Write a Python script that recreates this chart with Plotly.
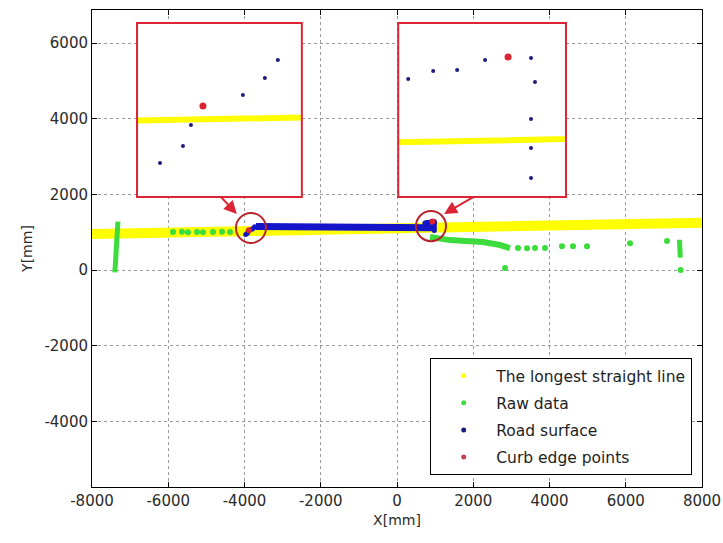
import plotly.graph_objects as go

# ---- data (mm) ----
# longest straight line found in the scan (end points)
line_x = [-8000, 8000]
line_y = [950, 1250]

# raw scan data: left curb wall, scattered points, right-side profile
raw_left_wall_x = [-7320, -7340, -7360, -7380, -7400]
raw_left_wall_y = [1280, 900, 500, 150, -60]
raw_left_pts_x = [-5875, -5640, -5482, -5246, -5089, -4826, -4590, -4380]
raw_left_pts_y = [1004, 1010, 1000, 1006, 998, 1004, 1010, 1004]
raw_right_curve_x = [866, 1100, 1390, 1800, 2256, 2702, 2964]
raw_right_curve_y = [870, 820, 790, 770, 740, 660, 580]
raw_right_pts_x = [3174, 3410, 3620, 3882, 4328, 4616, 4984, 6111, 7082, 2833, 7440]
raw_right_pts_y = [580, 575, 585, 580, 630, 625, 630, 710, 770, 50, 0]
raw_right_wall_x = [7410, 7420, 7430]
raw_right_wall_y = [800, 560, 330]

# road surface band
road_x = [-3700, -3000, -2000, -1000, 0, 500, 940]
road_y = [1150, 1140, 1120, 1110, 1110, 1110, 1120]

# detail around the left curb
left_road_x = [-3969, -3923, -3907, -3803, -3759, -3733]
left_road_y = [940, 974, 1016, 1076, 1110, 1146]
left_curb_x = [-3883]
left_curb_y = [1054]

# detail around the right curb
right_road_x = [732, 782, 830, 886, 978, 986, 978, 978, 978]
right_road_y = [1240, 1256, 1258, 1278, 1282, 1234, 1160, 1102, 1042]
right_curb_x = [932]
right_curb_y = [1284]

# axis ticks
x_ticks = [-8000, -6000, -4000, -2000, 0, 2000, 4000, 6000, 8000]
x_tick_text = ["-8000", "-6000", "-4000", "-2000", "0", "2000", "4000", "6000", "8000"]
y_ticks = [-6000, -4000, -2000, 0, 2000, 4000, 6000]
y_tick_text = ["-6000", "-4000", "-2000", "0", "2000", "4000", "6000"]

YELLOW = "#ffff00"
GREEN = "#3ddc3d"
BLUE = "#1414c8"
NAVY = "#1a1a80"
RED = "#dc2434"
CURB = "#c0405a"
FONT = "DejaVu Sans, Arial, sans-serif"

fig = go.Figure()

# main axes
fig.add_trace(go.Scatter(x=line_x, y=line_y, mode="lines",
                         line=dict(color=YELLOW, width=10), showlegend=False))
fig.add_trace(go.Scatter(x=raw_left_wall_x, y=raw_left_wall_y, mode="lines",
                         line=dict(color=GREEN, width=5), showlegend=False))
fig.add_trace(go.Scatter(x=raw_left_pts_x, y=raw_left_pts_y, mode="markers",
                         marker=dict(color=GREEN, size=6), showlegend=False))
fig.add_trace(go.Scatter(x=raw_right_curve_x, y=raw_right_curve_y, mode="lines",
                         line=dict(color=GREEN, width=6), showlegend=False))
fig.add_trace(go.Scatter(x=raw_right_pts_x, y=raw_right_pts_y, mode="markers",
                         marker=dict(color=GREEN, size=6), showlegend=False))
fig.add_trace(go.Scatter(x=raw_right_wall_x, y=raw_right_wall_y, mode="lines",
                         line=dict(color=GREEN, width=5), showlegend=False))
fig.add_trace(go.Scatter(x=road_x, y=road_y, mode="lines",
                         line=dict(color=BLUE, width=7), showlegend=False))
fig.add_trace(go.Scatter(x=left_road_x + right_road_x, y=left_road_y + right_road_y,
                         mode="markers", marker=dict(color=BLUE, size=5), showlegend=False))
fig.add_trace(go.Scatter(x=left_curb_x + right_curb_x, y=left_curb_y + right_curb_y,
                         mode="markers", marker=dict(color=RED, size=6), showlegend=False))

# magnified views of the two curbs
for xa, ya, rx, ry, cx, cy in [("x2", "y2", left_road_x, left_road_y, left_curb_x, left_curb_y),
                               ("x3", "y3", right_road_x, right_road_y, right_curb_x, right_curb_y)]:
    fig.add_trace(go.Scatter(x=line_x, y=line_y, mode="lines", xaxis=xa, yaxis=ya,
                             line=dict(color=YELLOW, width=6), showlegend=False))
    fig.add_trace(go.Scatter(x=rx, y=ry, mode="markers", xaxis=xa, yaxis=ya,
                             marker=dict(color=NAVY, size=4), showlegend=False))
    fig.add_trace(go.Scatter(x=cx, y=cy, mode="markers", xaxis=xa, yaxis=ya,
                             marker=dict(color=RED, size=7), showlegend=False))

# legend entries
legend_items = [("The longest straight line", YELLOW), ("Raw data", GREEN),
                ("Road surface", NAVY), ("Curb edge points", CURB)]
for i, (name, col) in enumerate(legend_items):
    fig.add_trace(go.Scatter(x=[None], y=[None], mode="markers", name=name,
                             legendgroup=f"g{i}",
                             marker=dict(color=col, size=5)))

axis_common = dict(showline=True, linecolor="black", linewidth=1, mirror="ticks",
                   ticks="inside", ticklen=5, tickcolor="black", automargin=False,
                   showgrid=True, gridcolor="#9a9a9a", griddash="dot", gridwidth=1,
                   zeroline=False, tickfont=dict(size=15, color="#2a2a2a"))

inset_axis = dict(showline=False, showgrid=False, zeroline=False, automargin=False,
                  showticklabels=False, ticks="")

fig.update_layout(
    width=723, height=543,
    margin=dict(l=92, r=21, t=10, b=56, autoexpand=False),
    paper_bgcolor="white", plot_bgcolor="white",
    font=dict(family=FONT, color="#2a2a2a"),
    xaxis=dict(range=[-8000, 8000], tickmode="array", tickvals=x_ticks, ticktext=x_tick_text,
               title=dict(text="X[mm]", font=dict(size=14), standoff=6), **axis_common),
    yaxis=dict(range=[-5736, 6873], tickmode="array", tickvals=y_ticks, ticktext=y_tick_text,
               title=dict(text="Y[mm]", font=dict(size=14), standoff=8), **axis_common),
    xaxis2=dict(domain=[0.0738, 0.344], range=[-4015, -3685], anchor="y2", **inset_axis),
    yaxis2=dict(domain=[0.608, 0.973], range=[872, 1220], anchor="x2", **inset_axis),
    xaxis3=dict(domain=[0.502, 0.777], range=[712, 1048], anchor="y3", **inset_axis),
    yaxis3=dict(domain=[0.608, 0.973], range=[1004, 1352], anchor="x3", **inset_axis),
    legend=dict(x=0.984, y=0.025, xanchor="right", yanchor="bottom",
                bgcolor="white", bordercolor="black", borderwidth=1,
                font=dict(size=15.5, color="#1e1e1e"), itemwidth=55,
                tracegroupgap=4),
    showlegend=True,
)

# red frames of the insets
for x0, x1 in [(0.0738, 0.344), (0.502, 0.777)]:
    fig.add_shape(type="rect", xref="paper", yref="paper", x0=x0, x1=x1, y0=0.608, y1=0.973,
                  line=dict(color=RED, width=2), layer="above")

# circles marking the magnified regions
for cx, cy in [(-3830, 1110), (892, 1160)]:
    fig.add_shape(type="circle", xref="x", yref="y",
                  x0=cx - 394, x1=cx + 394, y0=cy - 397, y1=cy + 397,
                  line=dict(color="#b8242c", width=2))

# arrows from the insets to the circles
for hx, hy, tx, ty in [(-4200, 1480, -4670, 1985), (1234, 1480, 2047, 1958)]:
    fig.add_annotation(x=hx, y=hy, ax=tx, ay=ty, xref="x", yref="y", axref="x", ayref="y",
                       text="", showarrow=True, arrowhead=2, arrowsize=1.3,
                       arrowwidth=2, arrowcolor=RED)

fig.write_html("out.html")
